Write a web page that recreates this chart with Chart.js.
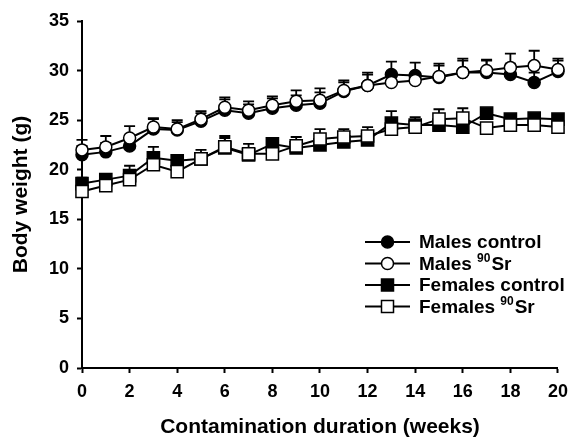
<!DOCTYPE html>
<html>
<head>
<meta charset="utf-8">
<script src="https://cdn.jsdelivr.net/npm/chart.js@4.4.1/dist/chart.umd.min.js"></script>
<style>
  html, body { margin: 0; padding: 0; background: #fff; }
  #wrap { width: 576px; height: 443px; }
</style>
</head>
<body>
<div id="wrap"><canvas id="c" width="576" height="443"></canvas></div>
<script>
// Weeks of contamination
const weeks = [0,1,2,3,4,5,6,7,8,9,10,11,12,13,14,15,16,17,18,19,20];

// Mean body weight (g)
const malesControl   = [21.5,21.8,22.4,24.1,24.0,24.9,26.0,25.7,26.2,26.5,26.7,27.9,28.5,29.6,29.5,29.3,29.8,29.8,29.6,28.8,29.9];
const malesSr        = [22.0,22.3,23.2,24.3,24.1,25.1,26.3,26.0,26.5,26.9,27.0,28.0,28.5,28.8,29.0,29.4,29.8,30.0,30.3,30.5,30.1];
const femalesControl = [18.6,19.0,19.4,21.2,20.9,21.1,22.2,21.5,22.6,22.2,22.5,22.8,23.0,24.7,24.5,24.5,24.3,25.7,25.1,25.2,25.1];
const femalesSr      = [17.8,18.4,19.0,20.5,19.8,21.1,22.3,21.6,21.6,22.4,23.1,23.3,23.4,24.1,24.3,25.1,25.2,24.2,24.5,24.5,24.3];

// Standard errors (upper bars)
const malesControlErr   = [0.9,0.9,1.0,1.0,0.8,0.8,1.1,0.9,1.0,1.0,1.1,0.9,1.1,1.3,1.3,1.2,1.2,1.2,1.1,1.0,1.1];
const malesSrErr        = [1.0,1.1,1.2,0.9,0.9,0.8,1.0,0.9,0.9,1.1,1.2,1.0,1.3,0.8,0.7,1.3,1.4,1.1,1.4,1.5,1.1];
const femalesControlErr = [0.6,0.4,1.0,1.1,0.5,0.6,1.2,0.6,0.4,0.5,0.5,0.6,0.5,1.2,0.8,0.5,0.5,0.4,0.4,0.4,0.4];
const femalesSrErr      = [0.8,0.6,0.9,0.7,0.7,0.9,0.9,1.0,0.5,0.9,1.0,0.8,0.9,0.6,0.7,1.0,1.0,0.5,0.5,0.5,1.2];

// Axis ticks
const xTicks = { min: 0, max: 20, step: 2 };
const yTicks = { min: 0, max: 35, step: 5 };

const FONT = '"Liberation Sans", Arial, sans-serif';

function pts(values) {
  return weeks.map((w, i) => ({ x: w, y: values[i] }));
}

const series = [
  { label: 'Males control',   sup: '',   rest: '',   data: malesControl,   err: malesControlErr,   style: 'circle', fill: '#000', radius: 6,   order: 4 },
  { label: 'Males ',          sup: '90', rest: 'Sr', data: malesSr,        err: malesSrErr,        style: 'circle', fill: '#fff', radius: 6,   order: 3 },
  { label: 'Females control', sup: '',   rest: '',   data: femalesControl, err: femalesControlErr, style: 'rect',   fill: '#000', radius: 8.6, order: 2 },
  { label: 'Females ',        sup: '90', rest: 'Sr', data: femalesSr,      err: femalesSrErr,      style: 'rect',   fill: '#fff', radius: 8.6, order: 1 }
];

// Upper error bars, drawn beneath the markers
const errorBars = {
  id: 'errorBars',
  beforeDatasetsDraw(chart) {
    const ctx = chart.ctx;
    const xs = chart.scales.x, ys = chart.scales.y;
    ctx.save();
    ctx.strokeStyle = '#000';
    ctx.lineWidth = 1.8;
    chart.data.datasets.forEach((ds) => {
      ds.data.forEach((p, i) => {
        const x = xs.getPixelForValue(p.x);
        const y0 = ys.getPixelForValue(p.y);
        const y1 = ys.getPixelForValue(p.y + ds.errors[i]);
        ctx.beginPath();
        ctx.moveTo(x, y0);
        ctx.lineTo(x, y1);
        ctx.moveTo(x - 5.5, y1);
        ctx.lineTo(x + 5.5, y1);
        ctx.stroke();
      });
    });
    ctx.restore();
  }
};

// Legend with superscript isotope labels
const legendBox = {
  id: 'legendBox',
  afterDraw(chart) {
    const ctx = chart.ctx;
    const x0 = 365, x1 = 410, tx = 419;
    const rows = [242, 263.5, 285, 306.5];
    ctx.save();
    series.forEach((s, i) => {
      const y = rows[i];
      ctx.strokeStyle = '#000';
      ctx.lineWidth = 2;
      ctx.beginPath();
      ctx.moveTo(x0, y);
      ctx.lineTo(x1, y);
      ctx.stroke();
      const cx = (x0 + x1) / 2;
      ctx.fillStyle = s.fill;
      ctx.lineWidth = 1.5;
      ctx.beginPath();
      if (s.style === 'circle') {
        ctx.arc(cx, y, 6, 0, Math.PI * 2);
      } else {
        ctx.rect(cx - 6, y - 6, 12, 12);
      }
      ctx.fill();
      ctx.stroke();

      ctx.fillStyle = '#000';
      ctx.textBaseline = 'middle';
      ctx.textAlign = 'left';
      ctx.font = 'bold 19px ' + FONT;
      ctx.fillText(s.label, tx, y + 1);
      let x = tx + ctx.measureText(s.label).width;
      if (s.sup) {
        ctx.font = 'bold 12px ' + FONT;
        ctx.fillText(s.sup, x, y - 5);
        x += ctx.measureText(s.sup).width + 1;
        ctx.font = 'bold 19px ' + FONT;
        ctx.fillText(s.rest, x, y + 1);
      }
    });
    ctx.restore();
  }
};

new Chart(document.getElementById('c'), {
  type: 'line',
  data: {
    datasets: series.map(s => ({
      label: s.label + s.sup + s.rest,
      data: pts(s.data),
      errors: s.err,
      order: s.order,
      borderColor: '#000',
      borderWidth: 2,
      pointStyle: s.style,
      pointRadius: s.radius,
      pointHoverRadius: s.radius,
      pointBorderWidth: 1.5,
      pointBorderColor: '#000',
      pointBackgroundColor: s.fill,
      fill: false,
      tension: 0,
      clip: false
    }))
  },
  options: {
    responsive: false,
    animation: false,
    events: [],
    layout: { padding: { top: 21, right: 14, left: 0, bottom: 0 } },
    plugins: {
      legend: { display: false },
      tooltip: { enabled: false }
    },
    scales: {
      x: {
        type: 'linear',
        min: xTicks.min,
        max: xTicks.max,
        afterFit(scale) { scale.height = 75; },
        border: { display: true, color: '#000', width: 2 },
        grid: { display: true, drawOnChartArea: false, drawTicks: true, tickLength: 5, tickWidth: 2, tickColor: '#000' },
        ticks: { stepSize: xTicks.step, color: '#000', padding: 8, font: { family: FONT, size: 18, weight: 'bold' } },
        title: {
          display: true,
          text: 'Contamination duration (weeks)',
          color: '#000',
          padding: { top: 0, bottom: 3 },
          font: { family: FONT, size: 21, weight: 'bold' }
        }
      },
      y: {
        type: 'linear',
        min: yTicks.min,
        max: yTicks.max,
        afterFit(scale) { scale.width = 82; },
        border: { display: true, color: '#000', width: 2 },
        grid: { display: true, drawOnChartArea: false, drawTicks: true, tickLength: 5, tickWidth: 2, tickColor: '#000' },
        ticks: { stepSize: yTicks.step, color: '#000', padding: 8, font: { family: FONT, size: 18, weight: 'bold' } },
        title: {
          display: true,
          text: 'Body weight (g)',
          color: '#000',
          padding: { top: 9, bottom: 0 },
          font: { family: FONT, size: 21, weight: 'bold' }
        }
      }
    }
  },
  plugins: [errorBars, legendBox]
});
</script>
</body>
</html>
